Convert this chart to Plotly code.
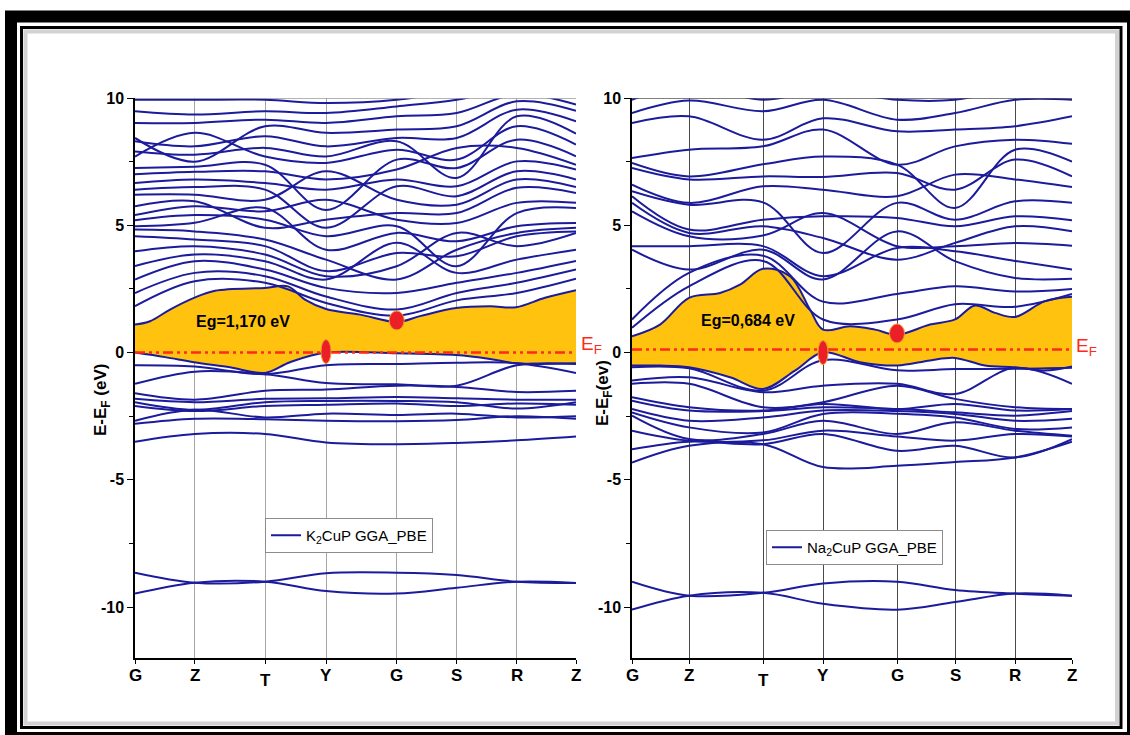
import plotly.graph_objects as go

W, H = 1130, 735

# ---------------- data ----------------
K_LABELS = ["G", "Z", "T", "Y", "G", "S", "R", "Z"]
K2_KPOS = [0, 59.7, 130, 191, 261.7, 321.7, 381.7, 441]
NA2_KPOS = [0, 57, 131, 191, 265, 323, 383, 440]
Y_TICKS = [10, 5, 0, -5, -10]
Y_TICK_TEXT = ["10", "5", "0", "-5", "-10"]

# K2CuP conduction bands (E at G, Z, T, Y, G, S, R, Z)
K2_CONDUCTION = [
    [9.93, 9.93, 9.93, 9.8, 9.93, 10.3, 10.7, 10.3],
    [9.48, 9.35, 9.48, 9.41, 9.67, 9.93, 10.4, 10.1],
    [9.02, 9.02, 9.15, 9.02, 9.28, 9.41, 10.15, 9.74],
    [8.43, 7.5, 8.89, 8.63, 8.76, 8.89, 9.87, 9.5],
    [8.3, 8.1, 8.5, 8.1, 8.43, 8.43, 9.54, 9.08],
    [7.9, 7.77, 8.04, 7.7, 8.3, 6.86, 9.28, 8.6],
    [7.7, 8.63, 7.7, 7.45, 7.97, 7.58, 8.89, 8.17],
    [7.25, 7.3, 7.38, 5.6, 7.58, 7.25, 8.36, 7.71],
    [7.0, 7.1, 7.12, 6.8, 7.19, 8.04, 8.04, 7.38],
    [6.66, 6.8, 6.66, 6.4, 6.8, 6.53, 7.51, 7.19],
    [6.4, 6.5, 6.4, 4.9, 6.53, 6.14, 7.12, 6.8],
    [6.2, 6.2, 6.0, 7.12, 6.0, 5.81, 6.8, 6.5],
    [5.75, 5.94, 4.9, 5.22, 5.48, 5.48, 6.47, 6.27],
    [5.4, 5.75, 5.55, 6.0, 5.22, 5.09, 5.88, 5.88],
    [5.2, 5.4, 5.22, 4.57, 4.96, 3.39, 5.48, 5.68],
    [4.96, 5.1, 5.68, 4.04, 4.7, 4.37, 4.96, 5.09],
    [4.83, 4.76, 4.44, 3.65, 2.87, 4.04, 4.7, 4.9],
    [4.57, 4.44, 4.18, 3.2, 3.91, 3.78, 4.57, 4.76],
    [3.98, 4.18, 3.85, 3.0, 3.39, 4.7, 4.18, 4.7],
    [3.4, 3.85, 3.59, 2.87, 4.31, 3.13, 3.65, 4.04],
    [2.87, 3.59, 3.26, 2.54, 2.34, 2.74, 3.13, 3.6],
    [2.34, 3.13, 3.0, 2.2, 1.69, 2.34, 2.74, 3.26],
    [1.82, 2.8, 2.74, 1.95, 1.45, 2.05, 2.34, 2.9],
]
K2_VALENCE = [
    [-0.5, -0.55, -0.85, -0.5, -0.45, -0.4, -0.42, -0.8],
    [-1.23, -0.75, -0.85, -1.2, -1.25, -1.3, -0.5, -0.45],
    [-1.6, -1.85, -1.5, -1.45, -1.3, -1.35, -1.55, -1.5],
    [-1.82, -1.95, -1.82, -1.8, -1.75, -1.8, -1.85, -1.85],
    [-1.95, -2.25, -1.95, -1.9, -1.9, -1.95, -2.2, -1.95],
    [-2.1, -2.3, -2.1, -2.05, -2.0, -2.1, -2.0, -2.05],
    [-2.68, -2.25, -2.55, -2.4, -2.45, -2.4, -2.55, -2.5],
    [-2.8, -2.6, -2.62, -2.68, -2.7, -2.65, -2.5, -2.6],
    [-3.5, -3.2, -3.2, -3.53, -3.6, -3.55, -3.45, -3.3],
]
K2_DEEP = [
    [-8.65, -9.04, -9.0, -8.67, -8.65, -8.74, -9.0, -9.05],
    [-9.47, -9.04, -9.0, -9.37, -9.47, -9.24, -9.0, -9.05],
]
# band edges bounding the gap (read along the path)
K2_CBM_K = [0, 15, 35, 59, 80, 130, 153, 170, 191, 225, 262, 285, 321, 355, 381, 410, 441]
K2_CBM_E = [1.1, 1.23, 1.69, 2.15, 2.43, 2.54, 2.6, 2.08, 1.71, 1.49, 1.2, 1.43, 1.75, 1.82, 1.78, 2.15, 2.45]
K2_VBM_K = [0, 30, 59, 95, 130, 155, 191, 262, 321, 355, 381, 441]
K2_VBM_E = [0.0, -0.18, -0.38, -0.58, -0.8, -0.38, 0.0, -0.03, -0.1, -0.25, -0.42, -0.42]
K2_EF = 0.0
K2_VB_POINT = (191, 0.04)
K2_CB_POINT = (261.7, 1.26)
K2_GAP_TEXT = "Eg=1,170 eV"

# Na2CuP
NA2_CONDUCTION = [
    [9.93, 10.5, 9.93, 10.3, 9.93, 9.93, 10.4, 10.5],
    [9.41, 9.9, 9.48, 9.93, 9.15, 9.41, 9.93, 9.93],
    [9.02, 9.28, 8.36, 9.2, 8.69, 8.76, 8.89, 9.28],
    [7.64, 7.97, 8.1, 8.76, 7.38, 8.1, 8.36, 8.2],
    [7.45, 6.92, 7.4, 7.7, 7.38, 5.68, 7.97, 7.5],
    [7.25, 6.8, 6.92, 6.9, 7.05, 6.4, 7.58, 6.92],
    [6.6, 5.88, 6.53, 6.4, 6.14, 6.99, 6.8, 6.5],
    [6.34, 5.81, 5.9, 3.91, 5.88, 5.22, 5.94, 5.88],
    [6.14, 4.83, 5.22, 5.35, 5.29, 4.96, 5.35, 5.2],
    [5.88, 4.7, 4.96, 4.5, 3.65, 4.31, 4.96, 4.76],
    [5.55, 4.57, 4.6, 5.48, 4.18, 4.18, 4.3, 4.2],
    [4.18, 4.18, 4.18, 3.0, 4.11, 3.98, 3.6, 3.26],
    [4.04, 3.26, 4.04, 2.87, 4.76, 3.59, 2.93, 2.9],
    [1.3, 3.13, 3.8, 2.0, 2.3, 2.6, 2.4, 2.5],
    [0.97, 2.6, 3.6, 1.3, 1.3, 1.9, 1.8, 2.3],
]
NA2_VALENCE = [
    [-0.58, -0.62, -1.5, -0.3, -0.7, -0.65, -0.64, -0.6],
    [-1.1, -0.97, -1.56, -1.3, -1.23, -1.63, -0.6, -1.23],
    [-1.23, -1.23, -2.15, -1.95, -1.3, -1.82, -2.15, -2.22],
    [-1.76, -2.15, -2.28, -2.02, -2.22, -2.02, -2.28, -2.22],
    [-1.89, -2.28, -2.3, -2.15, -2.22, -2.35, -2.48, -2.3],
    [-2.22, -2.68, -2.55, -2.28, -2.3, -2.41, -2.68, -2.6],
    [-2.35, -2.94, -3.14, -2.41, -2.4, -2.55, -3.0, -2.94],
    [-2.48, -3.4, -3.2, -2.68, -3.2, -2.74, -3.07, -3.27],
    [-3.07, -3.46, -3.45, -3.07, -3.3, -3.46, -3.2, -3.3],
    [-3.8, -3.5, -3.6, -3.2, -3.86, -3.66, -4.12, -3.4],
    [-4.32, -3.66, -3.6, -4.5, -4.45, -4.3, -4.12, -3.5],
]
NA2_DEEP = [
    [-9.0, -9.55, -9.44, -9.07, -9.0, -9.33, -9.47, -9.55],
    [-10.1, -9.55, -9.44, -9.87, -10.1, -9.8, -9.47, -9.55],
]
NA2_CBM_K = [0, 28, 57, 88, 108, 131, 158, 178, 191, 218, 243, 265, 298, 323, 343, 363, 383, 413, 440]
NA2_CBM_E = [0.64, 1.1, 2.15, 2.34, 2.67, 3.29, 3.0, 1.69, 0.9, 1.03, 0.9, 0.7, 1.1, 1.3, 1.85, 1.56, 1.4, 2.02, 2.19]
NA2_VBM_K = [0, 28, 57, 98, 131, 163, 191, 228, 265, 298, 323, 353, 383, 413, 440]
NA2_VBM_E = [-0.51, -0.51, -0.58, -0.97, -1.43, -0.71, 0.01, -0.38, -0.51, -0.31, -0.21, -0.51, -0.58, -0.71, -0.55]
NA2_EF = 0.12
NA2_VB_POINT = (191, 0.0)
NA2_CB_POINT = (265, 0.75)
NA2_GAP_TEXT = "Eg=0,684 eV"

# ---------------- style ----------------
BAND_COLOR = "#1b1b9c"
GAP_COLOR = "#ffc30f"
EF_COLOR = "#ff2a1a"
DOT_COLOR = "#ea1f27"
FONT = "Liberation Sans, Arial, sans-serif"


def px_x(x):
    return x / W


def px_y(y):
    return 1 - y / H


fig = go.Figure()


def add_panel(xa, ya, kpos, cond, val, deep, cbk, cbe, vbk, vbe, ef, name, legend):
    line = dict(color=BAND_COLOR, width=2, shape="spline", smoothing=1.0)
    fig.add_trace(go.Scatter(x=vbk, y=vbe, mode="lines", line=line, xaxis=xa, yaxis=ya,
                             showlegend=False, hoverinfo="skip"))
    fig.add_trace(go.Scatter(x=cbk, y=cbe, mode="lines", line=line, xaxis=xa, yaxis=ya,
                             fill="tonexty", fillcolor=GAP_COLOR, showlegend=False, hoverinfo="skip"))
    first = True
    for band in cond + val + deep:
        fig.add_trace(go.Scatter(x=kpos, y=band, mode="lines", line=line, xaxis=xa, yaxis=ya,
                                 name=name, legend=legend, showlegend=first, hoverinfo="skip"))
        first = False
    fig.add_trace(go.Scatter(x=[kpos[0], kpos[-1]], y=[ef, ef], mode="lines", xaxis=xa, yaxis=ya,
                             line=dict(color=EF_COLOR, width=2.5, dash="10px,4px,3px,4px,3px,4px"),
                             showlegend=False, hoverinfo="skip"))


add_panel("x", "y", K2_KPOS, K2_CONDUCTION, K2_VALENCE, K2_DEEP,
          K2_CBM_K, K2_CBM_E, K2_VBM_K, K2_VBM_E, K2_EF, "K<sub>2</sub>CuP GGA_PBE", "legend")
add_panel("x2", "y2", NA2_KPOS, NA2_CONDUCTION, NA2_VALENCE, NA2_DEEP,
          NA2_CBM_K, NA2_CBM_E, NA2_VBM_K, NA2_VBM_E, NA2_EF, "Na<sub>2</sub>CuP GGA_PBE", "legend2")

ydom = [px_y(658), px_y(98)]
xdom1 = [px_x(135), px_x(576)]
xdom2 = [px_x(632), px_x(1072)]

tickfont_y = dict(family=FONT, size=16, color="black", weight="bold")
xlabel_font = dict(family=FONT, size=17, color="black", weight="bold")


def xaxis_cfg(dom, kpos, gridcolor, anchor):
    return dict(domain=dom, range=[kpos[0], kpos[-1]], tickvals=kpos, showticklabels=False,
                showgrid=True, gridcolor=gridcolor, gridwidth=1.2, zeroline=False,
                showline=True, linecolor="black", linewidth=1.5, ticks="outside", ticklen=4,
                tickcolor="black", anchor=anchor, fixedrange=True, automargin=False)


def yaxis_cfg(anchor):
    return dict(domain=ydom, range=[-12, 10], tickvals=Y_TICKS, ticktext=Y_TICK_TEXT,
                showgrid=False, zeroline=False,
                showline=True, linecolor="black", linewidth=1.5, ticks="outside", ticklen=6,
                tickcolor="black", tickfont=tickfont_y, anchor=anchor,
                minor=dict(ticks="outside", ticklen=4, dtick=2.5, tickcolor="black", tick0=0),
                fixedrange=True, automargin=False)


shapes = []
shapes.append(dict(type="rect", xref="paper", yref="paper", x0=px_x(11), x1=px_x(1133),
                   y0=px_y(16.5), y1=px_y(738), line=dict(color="black", width=12), layer="above"))
shapes.append(dict(type="rect", xref="paper", yref="paper", x0=px_x(21.5), x1=px_x(1121),
                   y0=px_y(27.5), y1=px_y(727.5), line=dict(color="black", width=3), layer="above"))
shapes.append(dict(type="rect", xref="paper", yref="paper", x0=px_x(25.5), x1=px_x(1117),
                   y0=px_y(31.5), y1=px_y(723.5), line=dict(color="#d2d2d2", width=4), layer="above"))

for xr, yr, col in (("x", "y", "#9a9a9a"), ("x2", "y2", "#555555")):
    shapes.append(dict(type="line", xref=f"{xr} domain", yref=yr, x0=0, x1=1, y0=10, y1=10,
                       line=dict(color=col, width=1.5), layer="above"))

for xr, yr, pt, w, h in (("x", "y", K2_VB_POINT, 5, 12), ("x", "y", K2_CB_POINT, 7.5, 9.5),
                         ("x2", "y2", NA2_VB_POINT, 5, 12), ("x2", "y2", NA2_CB_POINT, 7.5, 9.5)):
    shapes.append(dict(type="circle", xref=xr, yref=yr, xsizemode="pixel", ysizemode="pixel",
                       xanchor=pt[0], yanchor=pt[1], x0=-w, x1=w, y0=-h, y1=h,
                       fillcolor=DOT_COLOR, line=dict(color="#f39a2a", width=1), layer="above"))

annotations = []
centre = dict(xanchor="center", yanchor="middle", showarrow=False)
# k-path labels (T sits a little lower, as in the original)
for xr, kpos in (("x", K2_KPOS), ("x2", NA2_KPOS)):
    for k, lab in zip(kpos, K_LABELS):
        annotations.append(dict(x=k, xref=xr, y=px_y(675), yref="paper", text=lab,
                                yshift=-5 if lab == "T" else 0, font=xlabel_font, **centre))
for x, y, txt in ((102, 400, "E-E<sub>F</sub> (eV)"), (604, 393, "E-E<sub>F</sub>(ev)")):
    annotations.append(dict(x=px_x(x), y=px_y(y), xref="paper", yref="paper", text=txt,
                            textangle=-90,
                            font=dict(family=FONT, size=17, color="black", weight="bold"), **centre))
for x, y in ((591, 345), (1086, 347)):
    annotations.append(dict(x=px_x(x), y=px_y(y), xref="paper", yref="paper", text="E<sub>F</sub>",
                            font=dict(family=FONT, size=19, color=EF_COLOR), **centre))
for x, y, txt in ((243, 321, K2_GAP_TEXT), (748, 320, NA2_GAP_TEXT)):
    annotations.append(dict(x=px_x(x), y=px_y(y), xref="paper", yref="paper", text=txt,
                            font=dict(family=FONT, size=16, color="black", weight="bold"), **centre))

legend_common = dict(xanchor="left", yanchor="top", bgcolor="white", bordercolor="#8c8c8c",
                     borderwidth=1, font=dict(family=FONT, size=15, color="black"),
                     itemwidth=30, tracegroupgap=0)

fig.update_layout(
    width=W, height=H, margin=dict(l=0, r=0, t=0, b=0, pad=0, autoexpand=False),
    paper_bgcolor="white", plot_bgcolor="white",
    xaxis=xaxis_cfg(xdom1, K2_KPOS, "#a6a6a6", "y"),
    yaxis=yaxis_cfg("x"),
    xaxis2=xaxis_cfg(xdom2, NA2_KPOS, "#4a4a4a", "y2"),
    yaxis2=yaxis_cfg("x2"),
    legend=dict(x=px_x(265), y=px_y(518), **legend_common),
    legend2=dict(x=px_x(766), y=px_y(530), **legend_common),
    shapes=shapes, annotations=annotations,
    showlegend=True,
)

fig.write_html(
    "out.html",
    config={"responsive": False, "displayModeBar": False},
    post_script="document.body.style.margin='0';document.body.style.padding='0';"
                "document.body.style.overflow='hidden';",
)
